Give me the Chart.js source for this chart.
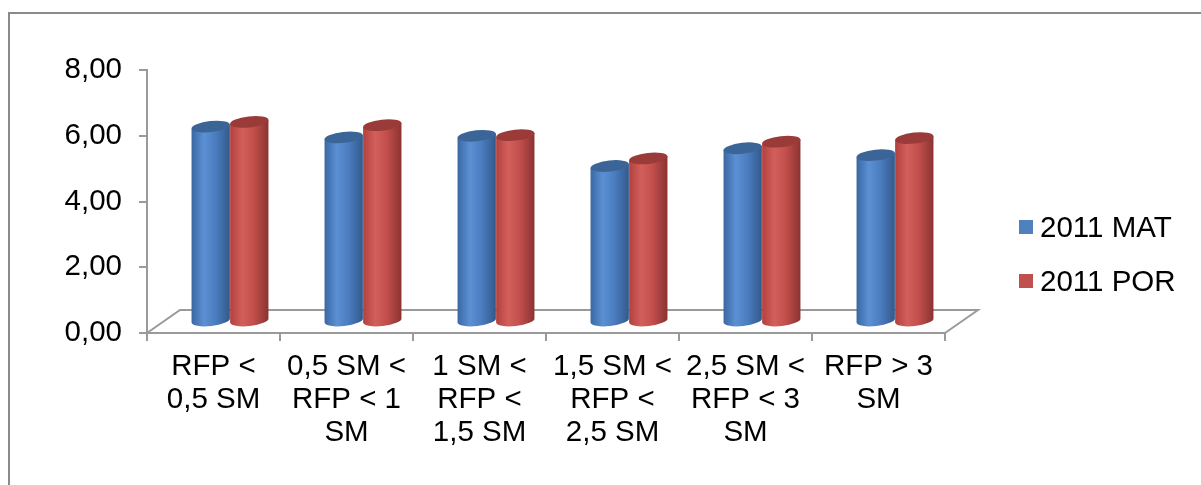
<!DOCTYPE html>
<html>
<head>
<meta charset="utf-8">
<script src="https://cdn.jsdelivr.net/npm/chart.js@4.4.1/dist/chart.umd.min.js"></script>
<style>
    html, body { margin: 0; padding: 0; background: #fff; overflow: hidden; }
    #wrap { position: relative; width: 1201px; height: 485px; }
    #frame { position: absolute; left: 8px; top: 12px; width: 1400px; height: 700px; border: 2px solid #8a8a8a; }
    #graph { position: absolute; left: 0; top: 0; }
    #legend { position: absolute; left: 1019px; top: 200px; font-family: "Liberation Sans", Arial, sans-serif; font-size: 29.5px; color: #000; }
    #legend .item { display: flex; align-items: center; height: 54px; }
    #legend .box { width: 14px; height: 14px; margin-right: 7px; }
</style>
</head>
<body>
<div id="wrap">
    <div id="frame"></div>
    <canvas id="graph" width="1201" height="485"></canvas>
    <div id="legend"></div>
</div>
<script>
const categories = [
    ['RFP <', '0,5 SM'],
    ['0,5 SM <', 'RFP < 1', 'SM'],
    ['1 SM <', 'RFP <', '1,5 SM'],
    ['1,5 SM <', 'RFP <', '2,5 SM'],
    ['2,5 SM <', 'RFP < 3', 'SM'],
    ['RFP > 3', 'SM']
];
const mat_values = [5.93, 5.60, 5.65, 4.73, 5.27, 5.06];
const por_values = [6.07, 5.97, 5.67, 4.96, 5.47, 5.58];
const series_names = ['2011 MAT', '2011 POR'];
const y_ticks = [0, 2, 4, 6, 8];

const depth = { dx: 33, dy: -23 };
const axisGrey = '#9a9a9a';

// colours for the cylinders: side gradient stops + top cap
const looks = [
    { stops: ['#3a67a2', '#5b90d3', '#4c7fc2', '#33598c'], cap: '#3c6597', key: '#4f81bd' },
    { stops: ['#b1413e', '#d35f5b', '#c4504d', '#8a3331'], cap: '#9a3b39', key: '#c0504d' }
];

const legend = document.getElementById('legend');
series_names.forEach((name, i) => {
    legend.insertAdjacentHTML('beforeend', `<div class="item"><span class="box" style="background:${looks[i].key}"></span>${name}</div>`);
});

const floorPlugin = {
    id: 'floor',
    beforeDatasetsDraw(chart) {
        const ctx = chart.ctx;
        const a = chart.chartArea;
        ctx.save();
        ctx.strokeStyle = axisGrey;
        ctx.lineWidth = 2;
        ctx.beginPath();
        ctx.moveTo(a.left, a.bottom);
        ctx.lineTo(a.left + depth.dx, a.bottom + depth.dy);
        ctx.lineTo(a.right + depth.dx, a.bottom + depth.dy);
        ctx.lineTo(a.right, a.bottom);
        ctx.stroke();
        ctx.restore();
    }
};

const cylinderPlugin = {
    id: 'cylinders',
    afterDatasetsDraw(chart) {
        const ctx = chart.ctx;
        const n = chart.data.labels.length;
        const rot = -0.11;
        for (let i = 0; i < n; i++) {
            chart.data.datasets.forEach((ds, d) => {
                const bar = chart.getDatasetMeta(d).data[i];
                const rx = bar.width / 2;
                const ry = 5.5;
                const cx = bar.x + depth.dx / 2;
                const top = bar.y + depth.dy / 2;
                const bottom = bar.base + depth.dy / 2;
                const look = looks[d];
                const ox = rx * Math.cos(rot), oy = rx * Math.sin(rot);

                const grad = ctx.createLinearGradient(cx - rx, 0, cx + rx, 0);
                grad.addColorStop(0, look.stops[0]);
                grad.addColorStop(0.32, look.stops[1]);
                grad.addColorStop(0.6, look.stops[2]);
                grad.addColorStop(1, look.stops[3]);

                ctx.save();
                ctx.beginPath();
                ctx.moveTo(cx - ox, top - oy);
                ctx.lineTo(cx - ox, bottom - oy);
                ctx.ellipse(cx, bottom, rx, ry, rot, Math.PI, 0, true);
                ctx.lineTo(cx + ox, top + oy);
                ctx.closePath();
                ctx.fillStyle = grad;
                ctx.fill();

                ctx.beginPath();
                ctx.ellipse(cx, top, rx, ry, rot, 0, Math.PI * 2);
                ctx.fillStyle = look.cap;
                ctx.fill();
                ctx.restore();
            });
        }
    }
};

const graph = document.getElementById('graph').getContext('2d');

new Chart(graph, {
    type: 'bar',
    data: {
        labels: categories,
        datasets: [{
            label: series_names[0],
            data: mat_values,
            backgroundColor: 'rgba(0,0,0,0)'
        },
        {
            label: series_names[1],
            data: por_values,
            backgroundColor: 'rgba(0,0,0,0)'
        }]
    },
    options: {
        responsive: false,
        animation: false,
        events: [],
        datasets: {
            bar: { barPercentage: 1, categoryPercentage: 0.58 }
        },
        layout: {
            padding: { left: 0, top: 70, right: 256, bottom: 0 }
        },
        plugins: {
            legend: { display: false },
            tooltip: { enabled: false }
        },
        scales: {
            x: {
                offset: true,
                grid: { display: true, drawOnChartArea: false, offset: true, tickLength: 8, color: axisGrey, lineWidth: 2 },
                border: { display: true, color: axisGrey, width: 2 },
                ticks: {
                    color: '#000',
                    padding: 9,
                    maxRotation: 0,
                    autoSkip: false,
                    font: { family: 'Liberation Sans', size: 29.5, lineHeight: 1.13 }
                },
                afterFit(scale) { scale.height = 485 - 333; }
            },
            y: {
                min: 0,
                max: 8,
                afterBuildTicks(scale) { scale.ticks = y_ticks.map(v => ({ value: v })); },
                grid: { display: true, drawOnChartArea: false, tickLength: 8, color: axisGrey, lineWidth: 2 },
                border: { display: true, color: axisGrey, width: 2 },
                ticks: {
                    color: '#000',
                    padding: 17,
                    font: { family: 'Liberation Sans', size: 29.5 },
                    callback: v => v.toFixed(2).replace('.', ',')
                },
                afterFit(scale) { scale.width = 147; }
            }
        }
    },
    plugins: [floorPlugin, cylinderPlugin]
});
</script>
</body>
</html>
